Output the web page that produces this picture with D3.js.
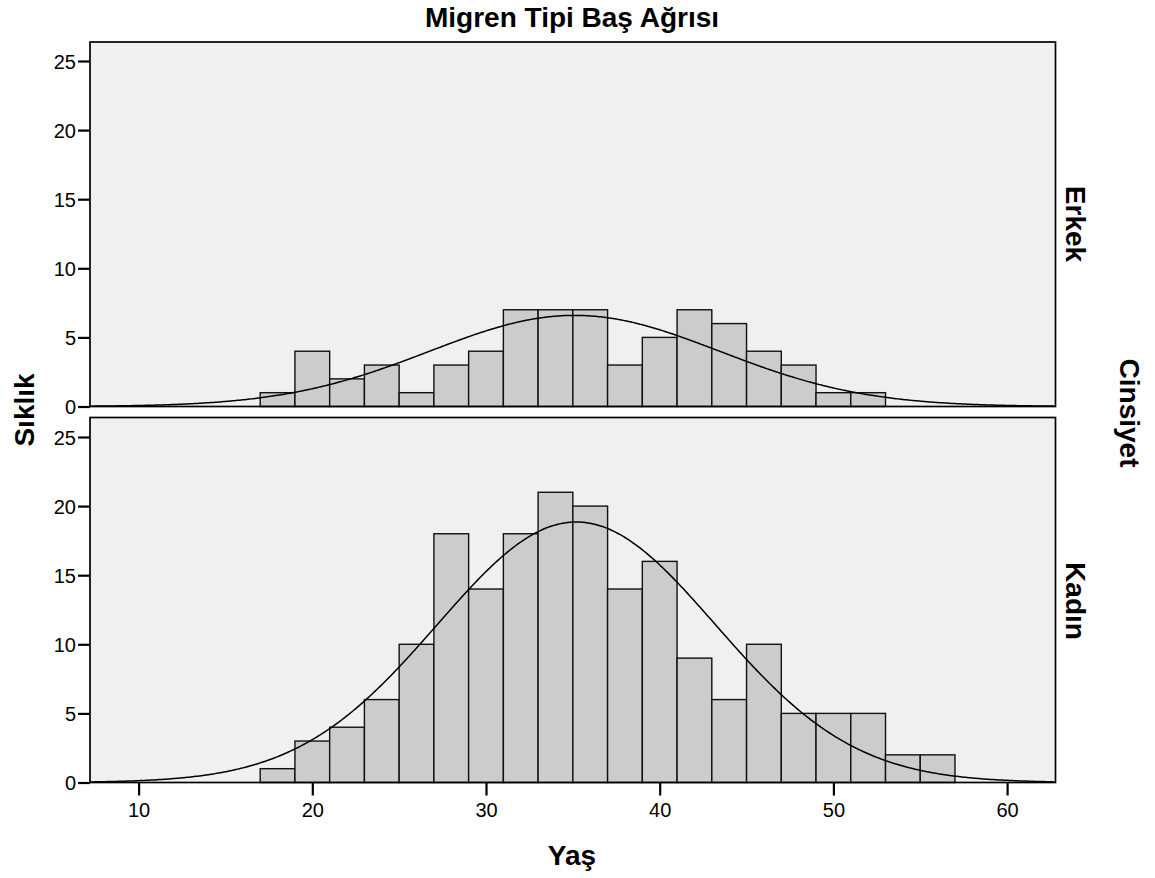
<!DOCTYPE html>
<html><head><meta charset="utf-8">
<script src="https://cdn.jsdelivr.net/npm/d3@7"></script>
<style>body{margin:0;background:#fff}svg{display:block}text{font-family:"Liberation Sans",Arial,sans-serif}</style>
</head><body>
<svg id="c" width="1155" height="878"></svg>
<script>
// ---- data ----
const binStarts = [17,19,21,23,25,27,29,31,33,35,37,39,41,43,45,47,49,51,53,55];
const binWidth = 2;
const erkekCounts = [1,4,2,3,1,3,4,7,7,7,3,5,7,6,4,3,1,1,0,0];
const kadinCounts = [1,3,4,6,10,18,14,18,21,20,14,16,9,6,10,5,5,5,2,2];
const panelNames = ["Erkek","Kadın"];
// fitted normal curve parameters (mean, sd)
const erkekFit = {mean: 35.1, sd: 8.35};
const kadinFit = {mean: 35.2, sd: 8.0};
const xTicks = [10,20,30,40,50,60];
const yTicks = [0,5,10,15,20,25];

const svg = d3.select("#c");
const L = 90, R = 1055.5;
const panels = [
  {name: panelNames[0], counts: erkekCounts, fit: erkekFit, top: 42, bottom: 406.5, labelY: 224},
  {name: panelNames[1], counts: kadinCounts, fit: kadinFit, top: 417.5, bottom: 782.5, labelY: 601}
];
const x = d3.scaleLinear().domain([20,40]).range([312.3,659.7]);
const xDom = [x.invert(L), x.invert(R)];

panels.forEach((p, i) => {
  const y = d3.scaleLinear().domain([0,25]).range([p.bottom, p.bottom - 25*13.82]);
  const g = svg.append("g");
  g.append("rect").attr("x", L).attr("y", p.top).attr("width", R-L).attr("height", p.bottom-p.top)
    .attr("fill", "#f0f0f0");
  const bins = binStarts.map((s,k)=>({s, c:p.counts[k]})).filter(d=>d.c>0);
  g.selectAll("rect.bar").data(bins).join("rect").attr("class","bar")
    .attr("x", d=>x(d.s)).attr("width", d=>x(d.s+binWidth)-x(d.s))
    .attr("y", d=>y(d.c)).attr("height", d=>y(0)-y(d.c))
    .attr("fill", "#cccccc").attr("stroke", "#111").attr("stroke-width", 1.4);
  const N = d3.sum(p.counts);
  const pts = d3.range(xDom[0], xDom[1]+0.001, 0.1).map(v => {
    const z = (v - p.fit.mean)/p.fit.sd;
    return [v, N*binWidth/(p.fit.sd*Math.sqrt(2*Math.PI))*Math.exp(-0.5*z*z)];
  });
  g.append("path").datum(pts)
    .attr("d", d3.line().x(d=>x(d[0])).y(d=>y(d[1])).curve(d3.curveBasis))
    .attr("fill","none").attr("stroke","#000").attr("stroke-width",1.5);
  g.append("rect").attr("x", L).attr("y", p.top).attr("width", R-L).attr("height", p.bottom-p.top)
    .attr("fill", "none").attr("stroke", "#000").attr("stroke-width", 1.7);
  // y axis
  const ya = g.append("g").attr("transform", `translate(${L},0)`)
    .call(d3.axisLeft(y).tickValues(yTicks).tickSize(12).tickPadding(2).tickFormat(d3.format("d")));
  ya.select(".domain").remove();
  ya.selectAll("line").attr("stroke","#000").attr("stroke-width",2.2);
  ya.selectAll("text").attr("font-size", 20).attr("fill","#000").attr("dy","0.36em");
  // panel label
  g.append("text").attr("transform", `translate(${1066},${p.labelY}) rotate(90)`)
    .attr("text-anchor","middle").attr("font-size",28).attr("font-weight","bold")
    .text(p.name);
  if (i === 1) {
    const xa = g.append("g").attr("transform", `translate(0,${p.bottom})`)
      .call(d3.axisBottom(x).tickValues(xTicks).tickSize(13).tickPadding(7).tickFormat(d3.format("d")));
    xa.select(".domain").remove();
    xa.selectAll("line").attr("stroke","#000").attr("stroke-width",2.2);
    xa.selectAll("text").attr("font-size",20).attr("fill","#000");
  }
});

svg.append("text").attr("x", 572).attr("y", 27).attr("text-anchor","middle")
  .attr("font-size",28).attr("font-weight","bold").text("Migren Tipi Baş Ağrısı");
svg.append("text").attr("x", 572).attr("y", 865).attr("text-anchor","middle")
  .attr("font-size",28).attr("font-weight","bold").text("Yaş");
svg.append("text").attr("transform","translate(34,410) rotate(-90)").attr("text-anchor","middle")
  .attr("font-size",28).attr("font-weight","bold").text("Sıklık");
svg.append("text").attr("transform","translate(1120,413) rotate(90)").attr("text-anchor","middle")
  .attr("font-size",28).attr("font-weight","bold").text("Cinsiyet");
</script>
</body></html>
